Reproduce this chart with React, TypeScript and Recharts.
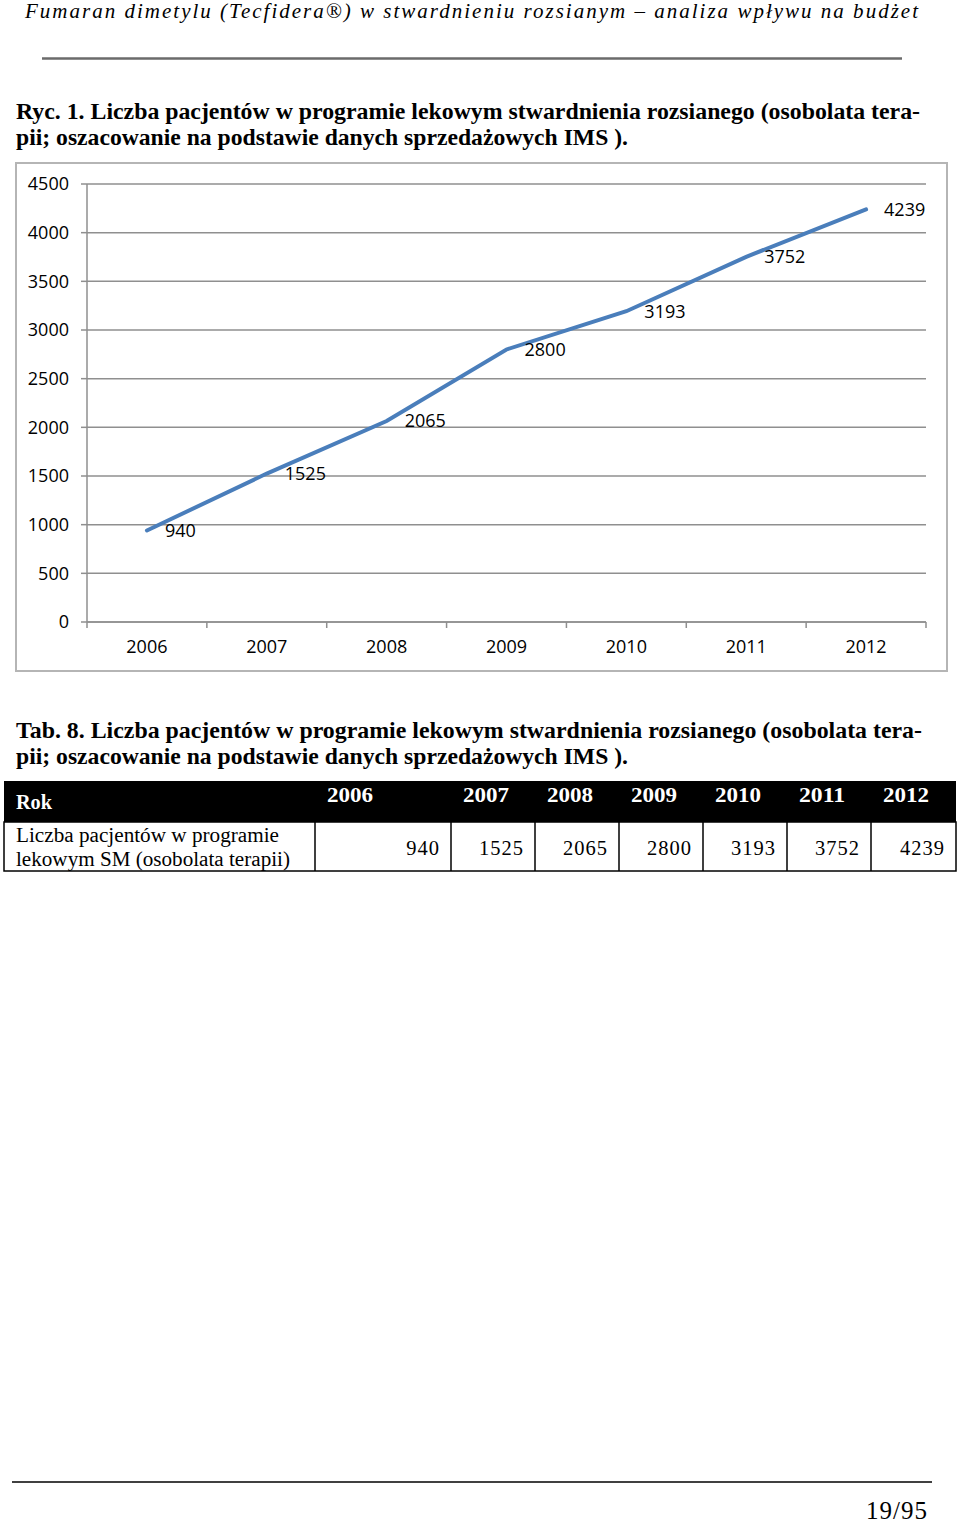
import React from 'react';
import { LineChart, Line, XAxis, YAxis, CartesianGrid, LabelList } from 'recharts';

const years = ['2006', '2007', '2008', '2009', '2010', '2011', '2012'];
const patients = [940, 1525, 2065, 2800, 3193, 3752, 4239];
const yTicks = [0, 500, 1000, 1500, 2000, 2500, 3000, 3500, 4000, 4500];

const headerText = 'Fumaran dimetylu (Tecfidera®) w stwardnieniu rozsianym – analiza wpływu na budżet';
const figCaption = [
  'Ryc. 1. Liczba pacjentów w programie lekowym stwardnienia rozsianego (osobolata tera-',
  'pii; oszacowanie na podstawie danych sprzedażowych IMS ).',
];
const tabCaption = [
  'Tab. 8. Liczba pacjentów w programie lekowym stwardnienia rozsianego (osobolata tera-',
  'pii; oszacowanie na podstawie danych sprzedażowych IMS ).',
];
const rowHeader = 'Rok';
const rowLabel = ['Liczba pacjentów w programie', 'lekowym SM (osobolata terapii)'];
const pageNumber = '19/95';

const data = years.map((year, i) => ({ year, value: patients[i] }));

const GRID = '#8f8f8f';
const LINE = '#4a7ebb';
const CHART_FONT = '"Open Sans", sans-serif';
const SERIF = '"Liberation Serif", "Times New Roman", serif';
const TICK_SIZE = 6;
const TICK_MARGIN = 12;

function XTick(props: any) {
  const { x, y, payload, index, visibleTicksCount } = props;
  const half = payload && typeof payload.offset === 'number' ? payload.offset : 0;
  const axisY = y - TICK_SIZE - TICK_MARGIN;
  const last = index === visibleTicksCount - 1;
  return (
    <g>
      <line x1={x - half} x2={x - half} y1={axisY} y2={axisY + TICK_SIZE} stroke={GRID} strokeWidth={1.5} />
      {last && (
        <line x1={x + half} x2={x + half} y1={axisY} y2={axisY + TICK_SIZE} stroke={GRID} strokeWidth={1.5} />
      )}
      <text x={x} y={y} dy="0.71em" textAnchor="middle" fill="#000" fontSize={18} fontFamily={CHART_FONT}>
        {payload.value}
      </text>
    </g>
  );
}

// table column boundaries (layout)
const colEdges = [4, 315, 451, 535, 619, 703, 787, 871, 956];

export default function App() {
  return (
    <div style={{ position: 'absolute', left: 0, top: 0, width: 960, height: 1525, background: '#fff' }}>
      <svg width={960} height={1525} style={{ position: 'absolute', left: 0, top: 0 }}>
        <text x={25} y={18} fontFamily={SERIF} fontStyle="italic" fontSize={21} textLength={893} lengthAdjust="spacing" fill="#000">
          {headerText}
        </text>
        <line x1={42} x2={902} y1={58.5} y2={58.5} stroke="#6b6b6b" strokeWidth={2.5} />

        <text x={16} y={119} fontFamily={SERIF} fontWeight="bold" fontSize={24} textLength={904} lengthAdjust="spacingAndGlyphs" fill="#000">
          {figCaption[0]}
        </text>
        <text x={16} y={145} fontFamily={SERIF} fontWeight="bold" fontSize={24} textLength={612} lengthAdjust="spacingAndGlyphs" fill="#000">
          {figCaption[1]}
        </text>

        <text x={16} y={738} fontFamily={SERIF} fontWeight="bold" fontSize={24} textLength={906} lengthAdjust="spacingAndGlyphs" fill="#000">
          {tabCaption[0]}
        </text>
        <text x={16} y={764} fontFamily={SERIF} fontWeight="bold" fontSize={24} textLength={612} lengthAdjust="spacingAndGlyphs" fill="#000">
          {tabCaption[1]}
        </text>

        {/* table */}
        <rect x={4} y={781} width={952} height={41} fill="#000" />
        <rect x={4} y={822} width={952} height={49} fill="none" stroke="#000" strokeWidth={1.5} />
        {colEdges.slice(1, -1).map((cx) => (
          <line key={cx} x1={cx} x2={cx} y1={822} y2={871} stroke="#000" strokeWidth={1.5} />
        ))}
        <text x={16} y={809} fontFamily={SERIF} fontWeight="bold" fontSize={21} fill="#fff" textLength={36} lengthAdjust="spacingAndGlyphs">
          {rowHeader}
        </text>
        {years.map((yr, i) => (
          <text key={yr} x={colEdges[i + 1] + 12} y={802} fontFamily={SERIF} fontWeight="bold" fontSize={21} fill="#fff" textLength={46} lengthAdjust="spacingAndGlyphs">
            {yr}
          </text>
        ))}
        <text x={16} y={842} fontFamily={SERIF} fontSize={20.5} fill="#000" textLength={263} lengthAdjust="spacingAndGlyphs">
          {rowLabel[0]}
        </text>
        <text x={16} y={866} fontFamily={SERIF} fontSize={20.5} fill="#000" textLength={274} lengthAdjust="spacingAndGlyphs">
          {rowLabel[1]}
        </text>
        {patients.map((v, i) => (
          <text key={i} x={colEdges[i + 2] - 11} y={855} textAnchor="end" fontFamily={SERIF} fontSize={20.5} fill="#000" letterSpacing={1}>
            {v}
          </text>
        ))}

        {/* footer */}
        <line x1={12} x2={932} y1={1482} y2={1482} stroke="#000" strokeWidth={1.5} />
        <text x={928} y={1519} textAnchor="end" fontFamily={SERIF} fontSize={25} fill="#000" letterSpacing={1}>
          {pageNumber}
        </text>
      </svg>

      <div
        style={{
          position: 'absolute',
          left: 15,
          top: 162,
          width: 933,
          height: 510,
          boxSizing: 'border-box',
          border: '2px solid #b5b5b5',
          background: '#fff',
        }}
      >
        <LineChart width={929} height={506} data={data} margin={{ top: 20, right: 20, left: 0, bottom: 0 }}>
          <CartesianGrid vertical={false} stroke={GRID} strokeWidth={1.5} />
          <XAxis
            dataKey="year"
            scale="band"
            height={48}
            stroke={GRID}
            strokeWidth={1.5}
            tickLine={false}
            tickSize={TICK_SIZE}
            tickMargin={TICK_MARGIN}
            tick={<XTick />}
            interval={0}
          />
          <YAxis
            width={70}
            domain={[0, 4500]}
            ticks={yTicks}
            interval={0}
            stroke={GRID}
            strokeWidth={1.5}
            tickSize={TICK_SIZE}
            tickMargin={TICK_MARGIN}
            tick={{ fill: '#000', fontSize: 18, fontFamily: CHART_FONT }}
          />
          <Line
            type="linear"
            dataKey="value"
            stroke={LINE}
            strokeWidth={4}
            strokeLinecap="round"
            dot={false}
            activeDot={false}
            isAnimationActive={false}
          >
            <LabelList dataKey="value" position="right" offset={18} fill="#000" fontSize={18} fontFamily={CHART_FONT} />
          </Line>
        </LineChart>
      </div>
    </div>
  );
}
